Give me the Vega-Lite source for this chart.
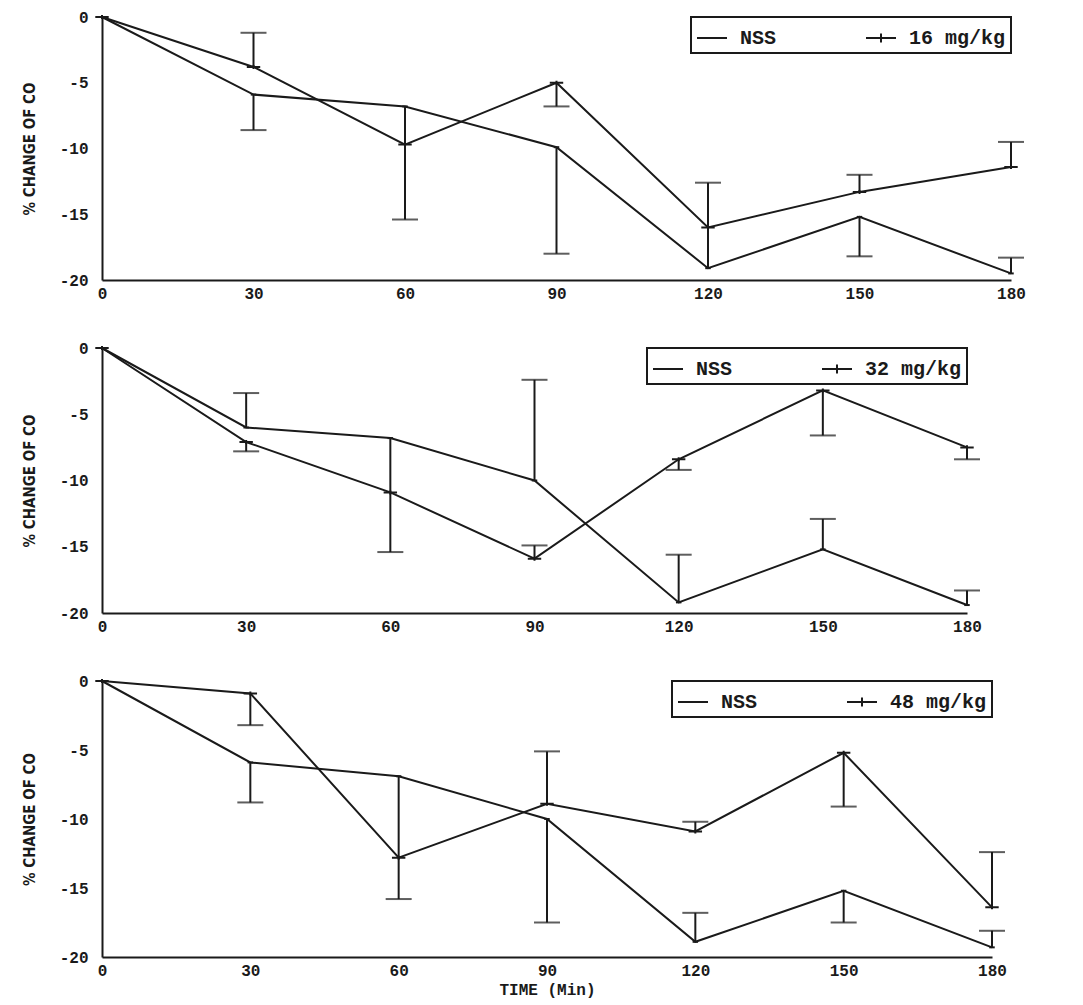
{
  "$schema": "https://vega.github.io/schema/vega-lite/v6.json",
  "background": "white",
  "padding": {"left": 22, "top": 9, "right": 5, "bottom": 2},
  "spacing": 39,
  "datasets": {
    "p16": [
      {"series": "NSS", "time": 0, "value": 0, "err": null},
      {"series": "NSS", "time": 30, "value": -5.9, "err": -8.6},
      {"series": "NSS", "time": 60, "value": -6.8, "err": -15.4},
      {"series": "NSS", "time": 90, "value": -9.9, "err": -18.0},
      {"series": "NSS", "time": 120, "value": -19.1, "err": -12.6},
      {"series": "NSS", "time": 150, "value": -15.2, "err": -18.2},
      {"series": "NSS", "time": 180, "value": -19.5, "err": -18.3},
      {"series": "16 mg/kg", "time": 0, "value": 0, "err": null},
      {"series": "16 mg/kg", "time": 30, "value": -3.8, "err": -1.2},
      {"series": "16 mg/kg", "time": 60, "value": -9.7, "err": null},
      {"series": "16 mg/kg", "time": 90, "value": -5.0, "err": -6.8},
      {"series": "16 mg/kg", "time": 120, "value": -16.0, "err": null},
      {"series": "16 mg/kg", "time": 150, "value": -13.3, "err": -12.0},
      {"series": "16 mg/kg", "time": 180, "value": -11.4, "err": -9.5}
    ],
    "p32": [
      {"series": "NSS", "time": 0, "value": 0, "err": null},
      {"series": "NSS", "time": 30, "value": -6.0, "err": -3.4},
      {"series": "NSS", "time": 60, "value": -6.8, "err": -15.4},
      {"series": "NSS", "time": 90, "value": -10.0, "err": -2.4},
      {"series": "NSS", "time": 120, "value": -19.2, "err": -15.6},
      {"series": "NSS", "time": 150, "value": -15.2, "err": -12.9},
      {"series": "NSS", "time": 180, "value": -19.4, "err": -18.3},
      {"series": "32 mg/kg", "time": 0, "value": 0, "err": null},
      {"series": "32 mg/kg", "time": 30, "value": -7.1, "err": -7.8},
      {"series": "32 mg/kg", "time": 60, "value": -10.9, "err": null},
      {"series": "32 mg/kg", "time": 90, "value": -15.9, "err": -14.9},
      {"series": "32 mg/kg", "time": 120, "value": -8.4, "err": -9.2},
      {"series": "32 mg/kg", "time": 150, "value": -3.2, "err": -6.6},
      {"series": "32 mg/kg", "time": 180, "value": -7.5, "err": -8.4}
    ],
    "p48": [
      {"series": "NSS", "time": 0, "value": 0, "err": null},
      {"series": "NSS", "time": 30, "value": -5.9, "err": -8.8},
      {"series": "NSS", "time": 60, "value": -6.9, "err": -15.8},
      {"series": "NSS", "time": 90, "value": -10.0, "err": -17.5},
      {"series": "NSS", "time": 120, "value": -18.9, "err": -16.8},
      {"series": "NSS", "time": 150, "value": -15.2, "err": -17.5},
      {"series": "NSS", "time": 180, "value": -19.3, "err": -18.1},
      {"series": "48 mg/kg", "time": 0, "value": 0, "err": null},
      {"series": "48 mg/kg", "time": 30, "value": -0.9, "err": -3.2},
      {"series": "48 mg/kg", "time": 60, "value": -12.8, "err": null},
      {"series": "48 mg/kg", "time": 90, "value": -8.9, "err": -5.1},
      {"series": "48 mg/kg", "time": 120, "value": -10.9, "err": -10.2},
      {"series": "48 mg/kg", "time": 150, "value": -5.2, "err": -9.1},
      {"series": "48 mg/kg", "time": 180, "value": -16.4, "err": -12.4}
    ]
  },
  "vconcat": [
    {
      "width": 909, "height": 263,
      "data": {"name": "p16"},
      "encoding": {
        "x": {"field": "time", "type": "quantitative", "scale": {"domain": [0, 180], "nice": false}, "axis": {"values": [0, 30, 60, 90, 120, 150, 180], "title": null}},
        "y": {"field": "value", "type": "quantitative", "scale": {"domain": [-20, 0], "nice": false}, "axis": {"values": [0, -5, -10, -15, -20], "labelExpr": "'' + datum.value", "title": "% CHANGE OF CO"}}
      },
      "layer": [
        {"mark": {"type": "line", "color": "#1a1a1a", "strokeWidth": 2}, "encoding": {"detail": {"field": "series"}}},
        {"transform": [{"filter": "isValid(datum.err)"}], "mark": {"type": "rule", "color": "#1a1a1a", "strokeWidth": 2}, "encoding": {"y2": {"field": "err"}}},
        {"transform": [{"filter": "isValid(datum.err)"}], "mark": {"type": "tick", "orient": "horizontal", "color": "#1a1a1a", "size": 26, "thickness": 2}, "encoding": {"y": {"field": "err", "type": "quantitative"}}},
        {"mark": {"type": "point", "filled": false, "stroke": "#1a1a1a", "strokeWidth": 2, "opacity": 1},
         "encoding": {
           "size": {"condition": {"test": "datum.series === 'NSS'", "value": 30}, "value": 180},
           "shape": {"field": "series", "type": "nominal", "scale": {"domain": ["NSS", "16 mg/kg"], "range": ["M-1,0H1", "M-1,0H1M0,-0.3V0.3"]}, "legend": {"title": null}}}}
      ]
    },
    {
      "width": 865, "height": 265,
      "data": {"name": "p32"},
      "encoding": {
        "x": {"field": "time", "type": "quantitative", "scale": {"domain": [0, 180], "nice": false}, "axis": {"values": [0, 30, 60, 90, 120, 150, 180], "title": null}},
        "y": {"field": "value", "type": "quantitative", "scale": {"domain": [-20, 0], "nice": false}, "axis": {"values": [0, -5, -10, -15, -20], "labelExpr": "'' + datum.value", "title": "% CHANGE OF CO"}}
      },
      "layer": [
        {"mark": {"type": "line", "color": "#1a1a1a", "strokeWidth": 2}, "encoding": {"detail": {"field": "series"}}},
        {"transform": [{"filter": "isValid(datum.err)"}], "mark": {"type": "rule", "color": "#1a1a1a", "strokeWidth": 2}, "encoding": {"y2": {"field": "err"}}},
        {"transform": [{"filter": "isValid(datum.err)"}], "mark": {"type": "tick", "orient": "horizontal", "color": "#1a1a1a", "size": 26, "thickness": 2}, "encoding": {"y": {"field": "err", "type": "quantitative"}}},
        {"mark": {"type": "point", "filled": false, "stroke": "#1a1a1a", "strokeWidth": 2, "opacity": 1},
         "encoding": {
           "size": {"condition": {"test": "datum.series === 'NSS'", "value": 30}, "value": 180},
           "shape": {"field": "series", "type": "nominal", "scale": {"domain": ["NSS", "32 mg/kg"], "range": ["M-1,0H1", "M-1,0H1M0,-0.3V0.3"]}, "legend": {"title": null}}}}
      ]
    },
    {
      "width": 890, "height": 276,
      "data": {"name": "p48"},
      "encoding": {
        "x": {"field": "time", "type": "quantitative", "scale": {"domain": [0, 180], "nice": false}, "axis": {"values": [0, 30, 60, 90, 120, 150, 180], "title": "TIME (Min)"}},
        "y": {"field": "value", "type": "quantitative", "scale": {"domain": [-20, 0], "nice": false}, "axis": {"values": [0, -5, -10, -15, -20], "labelExpr": "'' + datum.value", "title": "% CHANGE OF CO"}}
      },
      "layer": [
        {"mark": {"type": "line", "color": "#1a1a1a", "strokeWidth": 2}, "encoding": {"detail": {"field": "series"}}},
        {"transform": [{"filter": "isValid(datum.err)"}], "mark": {"type": "rule", "color": "#1a1a1a", "strokeWidth": 2}, "encoding": {"y2": {"field": "err"}}},
        {"transform": [{"filter": "isValid(datum.err)"}], "mark": {"type": "tick", "orient": "horizontal", "color": "#1a1a1a", "size": 26, "thickness": 2}, "encoding": {"y": {"field": "err", "type": "quantitative"}}},
        {"mark": {"type": "point", "filled": false, "stroke": "#1a1a1a", "strokeWidth": 2, "opacity": 1},
         "encoding": {
           "size": {"condition": {"test": "datum.series === 'NSS'", "value": 30}, "value": 180},
           "shape": {"field": "series", "type": "nominal", "scale": {"domain": ["NSS", "48 mg/kg"], "range": ["M-1,0H1", "M-1,0H1M0,-0.3V0.3"]}, "legend": {"title": null}}}}
      ]
    }
  ],
  "resolve": {"scale": {"shape": "independent"}, "legend": {"shape": "independent"}},
  "config": {
    "view": {"stroke": null},
    "axis": {
      "grid": false, "ticks": false,
      "domainColor": "#1a1a1a", "domainWidth": 2,
      "labelFont": "Liberation Mono", "labelFontWeight": "bold", "labelFontSize": 16, "labelColor": "#1a1a1a",
      "titleFont": "Liberation Mono", "titleFontWeight": "bold", "titleFontSize": 16, "titleColor": "#1a1a1a"
    },
    "axisX": {"labelPadding": 5, "labelFlush": false, "titlePadding": 3},
    "axisY": {"labelPadding": 14, "titleFont": "DejaVu Sans Condensed", "titleFontWeight": "bold", "titleFontSize": 15, "titlePadding": 22},
    "legend": {
      "orient": "top-right", "offset": 0, "direction": "horizontal",
      "strokeColor": "#1a1a1a", "strokeWidth": 2, "fillColor": "white",
      "padding": 5, "columnPadding": 85,
      "symbolSize": 900, "symbolStrokeWidth": 2, "symbolStrokeColor": "#1a1a1a", "symbolFillColor": "transparent",
      "labelFont": "Liberation Mono", "labelFontWeight": "bold", "labelFontSize": 20, "labelColor": "#1a1a1a", "labelOffset": 12
    }
  }
}
